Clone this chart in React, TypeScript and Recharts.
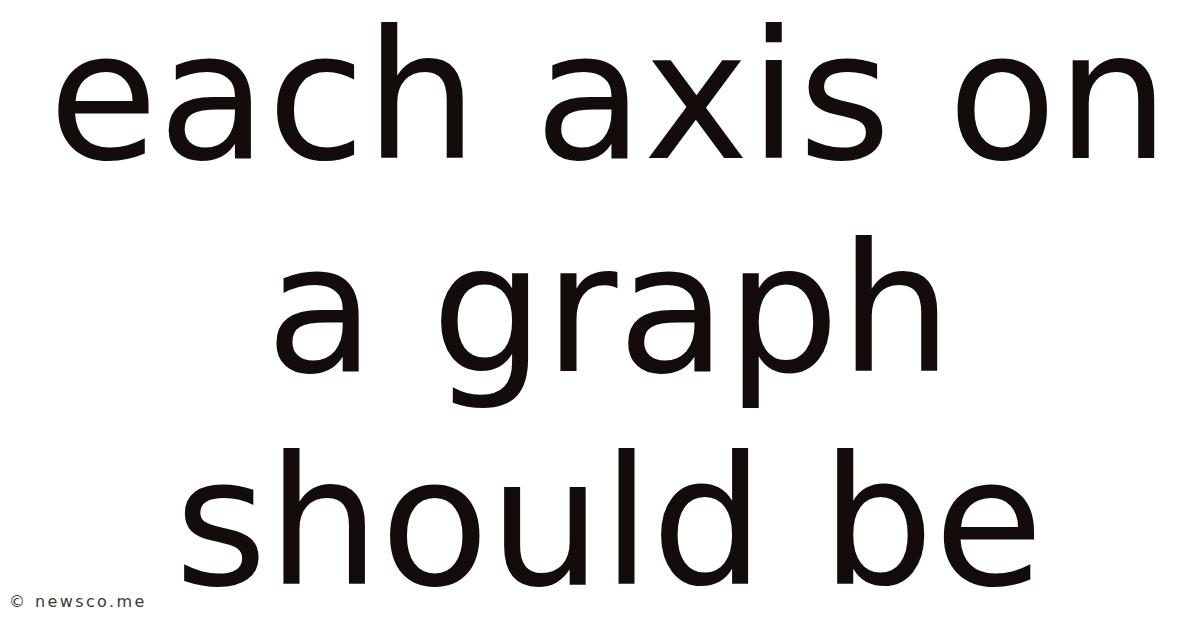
import { Surface, Text } from 'recharts'

// the picture is a caption card: three centred lines of text plus a site credit
const captionLines = ['each axis on', 'a graph', 'should be']
const creditText = '© newsco.me'

const WIDTH = 1200
const HEIGHT = 628
const FIRST_BASELINE = 158
const LINE_STEP = 213

export default function App() {
  return (
    <div style={{ position: 'fixed', top: 0, left: 0, width: WIDTH, height: HEIGHT, background: '#ffffff' }}>
      <Surface width={WIDTH} height={HEIGHT}>
        <rect x={0} y={0} width={WIDTH} height={HEIGHT} fill="#ffffff" />
        {captionLines.map((line, i) => (
          <Text
            key={line}
            x={WIDTH / 2 + 9}
            y={FIRST_BASELINE + i * LINE_STEP}
            textAnchor="middle"
            verticalAnchor="end"
            fontFamily="'DejaVu Sans', sans-serif"
            fontSize={178}
            fill="#140b0b"
          >
            {line}
          </Text>
        ))}
        <text
          x={9}
          y={607}
          fontFamily="'DejaVu Sans', sans-serif"
          fontSize={16}
          letterSpacing={2.4}
          fill="#3a3a3a"
        >
          {creditText}
        </text>
      </Surface>
    </div>
  )
}
